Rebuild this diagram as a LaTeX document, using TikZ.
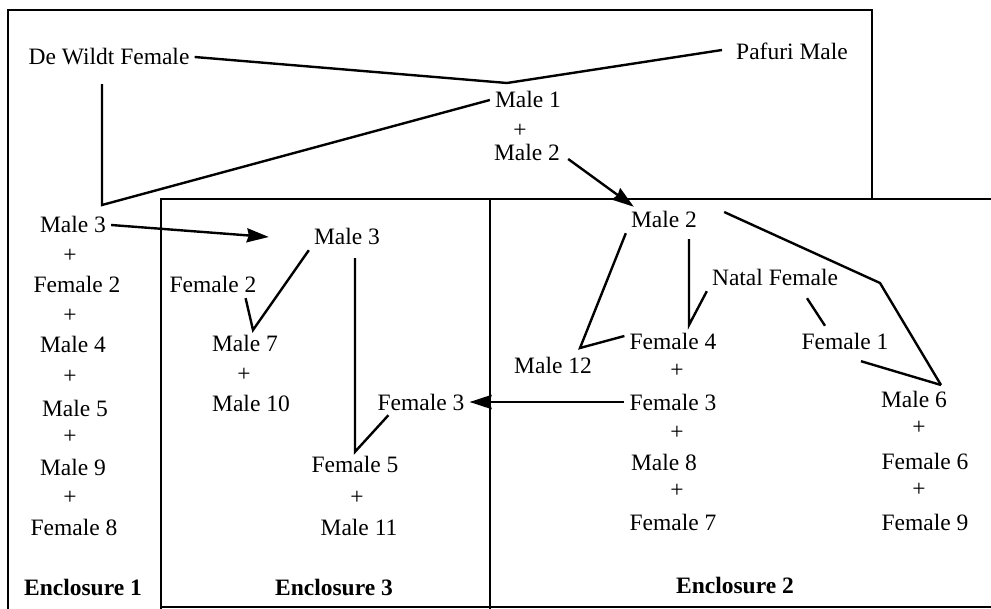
\documentclass[tikz,border=0pt]{standalone}
\usepackage{fontspec}
\setmainfont{Liberation Serif}
\usetikzlibrary{positioning,arrows.meta}

\begin{document}
\begin{tikzpicture}[x=0.5pt, y=-0.5pt, line width=1.2pt,
	main/.style = {inner sep=2pt, text height=8pt, text depth=0pt, font=\fontsize{11.75}{14}\selectfont},
	plus/.style = {inner sep=0pt, font=\fontsize{11.75}{14}\selectfont},
	encl/.style = {main, font=\fontsize{11.75}{14}\selectfont\bfseries},
	frame/.style = {line width=1.1pt},
	arr/.style = {-{Stealth[length=11pt,width=7pt,inset=1pt]}}]
		\useasboundingbox (0,0) rectangle (991,609);
		% enclosures
		\draw[frame] (8,609) -- (8,10) -- (872,10) -- (872,199);
		\draw[frame] (161,609) -- (161,199) -- (991,199);
		\draw[frame] (490,199) -- (490,609);
		\draw[frame] (161,607) -- (991,607);
		\node[encl] (e1) at (83,587) {Enclosure 1};
		\node[encl] (e3) at (334,587) {Enclosure 3};
		\node[encl] (e2) at (735,585) {Enclosure 2};
		% founders
		\node[main] (dwf) at (109,57) {De Wildt Female};
		\node[main] (pm) at (792,52) {Pafuri Male};
		\node[main] (m1) at (528,100) {Male 1};
		\node[plus] (p0) at (520,131) {+};
		\node[main] (m2a) at (527,153) {Male 2};
		% enclosure 1
		\node[main] (m3a) at (73,225) {Male 3};
		\node[plus] (p1) at (70,256) {+};
		\node[main] (f2a) at (77,285) {Female 2};
		\node[plus] (p2) at (70,316) {+};
		\node[main] (m4) at (73,345) {Male 4};
		\node[plus] (p3) at (70,377) {+};
		\node[main] (m5) at (75,408) {Male 5};
		\node[plus] (p4) at (70,437) {+};
		\node[main] (m9) at (73,467) {Male 9};
		\node[plus] (p5) at (70,498) {+};
		\node[main] (f8) at (74,527) {Female 8};
		% enclosure 3
		\node[main] (m3b) at (347,237) {Male 3};
		\node[main] (f2b) at (213,285) {Female 2};
		\node[main] (m7) at (245,343) {Male 7};
		\node[plus] (p6) at (244,375) {+};
		\node[main] (m10) at (251,403) {Male 10};
		\node[main] (f3b) at (421,402) {Female 3};
		\node[main] (f5) at (355,465) {Female 5};
		\node[plus] (p7) at (357,498) {+};
		\node[main] (m11) at (359,527) {Male 11};
		% enclosure 2
		\node[main] (m2b) at (664,220) {Male 2};
		\node[main] (nf) at (775,278) {Natal Female};
		\node[main] (f4) at (673,342) {Female 4};
		\node[main] (m12) at (553,365) {Male 12};
		\node[plus] (p8) at (677,371) {+};
		\node[main] (f3c) at (673,402) {Female 3};
		\node[plus] (p9) at (677,433) {+};
		\node[main] (m8) at (664,462) {Male 8};
		\node[plus] (p10) at (677,491) {+};
		\node[main] (f7) at (673,522) {Female 7};
		\node[main] (f1) at (845,342) {Female 1};
		\node[main] (m6) at (914,400) {Male 6};
		\node[plus] (p11) at (919,428) {+};
		\node[main] (f6) at (925,461) {Female 6};
		\node[plus] (p12) at (919,490) {+};
		\node[main] (f9) at (925,522) {Female 9};
		% bends
		\coordinate (j1) at (507,83);
		\coordinate (j2) at (102,205);
		\coordinate (j3) at (253,330);
		\coordinate (j5) at (580,348);
		\coordinate (j6) at (689,325);
		\coordinate (j7) at (880,283);
		\coordinate (j8) at (941,385);
		% lines
		\draw[-] (dwf.east) -- (j1) -- ([xshift=-4.5pt,yshift=1pt]pm.west);
		\draw[-] ([xshift=-3.5pt,yshift=-7pt]dwf.south) -- (j2) -- (m1.west);
		\draw[arr] ([xshift=1.5pt,yshift=-3pt]m2a.east) -- ([xshift=4pt]m2b.north west);
		\draw[arr] (m3a.east) -- ([xshift=-20pt]m3b.west);
		\draw[-] (m3b.south west) -- (j3) -- ([xshift=-8pt]f2b.south east);
		\draw[-] ([xshift=4pt,yshift=-4pt]m3b.south) -- (f5.north) -- ([xshift=8pt]f3b.south west);
		\draw[arr] (f3c.west) -- (f3b.east);
		\draw[-] (m2b.south west) -- (j5) -- ([yshift=3pt]f4.west);
		\draw[-] ([xshift=12.5pt,yshift=-3pt]m2b.south) -- (j6) -- (nf.south west);
		\draw[-] ([xshift=16pt,yshift=-3.5pt]nf.south) -- ([xshift=-10pt,yshift=1.5pt]f1.north);
		\draw[-] ([xshift=11pt,yshift=4pt]m2b.east) -- (j7) -- (j8);
		\draw[-] ([xshift=8pt,yshift=-3pt]f1.south) -- (j8);
	\end{tikzpicture}
\end{document}
